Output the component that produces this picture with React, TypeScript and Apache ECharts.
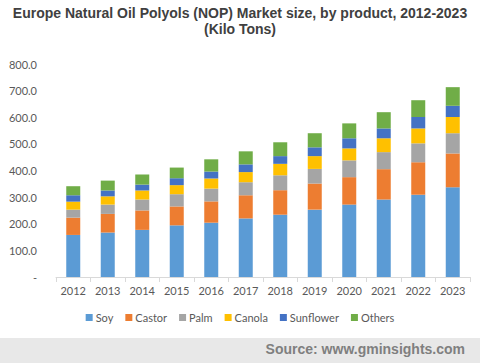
import React, { useEffect, useRef } from "react";
import * as echarts from "echarts";

const years = ["2012", "2013", "2014", "2015", "2016", "2017", "2018", "2019", "2020", "2021", "2022", "2023"];
const soy = [158, 167, 177, 194, 204, 220, 234, 253, 272, 291, 309, 337];
const castor = [65, 70, 73, 71, 80, 87, 92, 98, 103, 114, 122, 127];
const palm = [30, 35, 41, 46, 48, 49, 56, 55, 63, 64, 71, 76];
const canola = [30, 31, 34, 34, 38, 38, 43, 48, 45, 52, 56, 61];
const sunflower = [24, 22, 22, 26, 26, 29, 29, 33, 38, 37, 43, 42];
const others = [34, 37, 38, 40, 46, 49, 52, 53, 56, 61, 63, 70];

const seriesNames = ["Soy", "Castor", "Palm", "Canola", "Sunflower", "Others"];
const seriesData = [soy, castor, palm, canola, sunflower, others];
const colors = ["#5b9bd5", "#ed7d31", "#a5a5a5", "#ffc000", "#4472c4", "#70ad47"];

const titleText = "Europe Natural Oil Polyols (NOP) Market size, by product, 2012-2023\n(Kilo Tons)";
const sourceText = "Source: www.gminsights.com";

export default function App() {
  const ref = useRef<HTMLDivElement>(null);
  useEffect(() => {
    if (!ref.current) return;
    const chart = echarts.init(ref.current, undefined, { renderer: "svg" });
    const font = "'Liberation Sans', Arial, sans-serif";
    const labelFont = "Lato, 'Open Sans', sans-serif";
    chart.setOption({
      animation: false,
      backgroundColor: "#ffffff",
      title: {
        text: titleText,
        left: "center",
        top: 0,
        textStyle: {
          fontSize: 14,
          fontWeight: "bold",
          fontFamily: font,
          color: "#404040",
          lineHeight: 16,
        },
      },
      grid: { left: 56, right: 10, top: 64, bottom: 86 },
      legend: {
        data: seriesNames,
        bottom: 35,
        left: "center",
        itemWidth: 7,
        itemHeight: 7,
        itemGap: 12,
        icon: "rect",
        textStyle: { fontSize: 11, color: "#595959", fontFamily: labelFont, padding: [0, 0, 0, -2] },
      },
      xAxis: {
        type: "category",
        data: years,
        axisLine: { lineStyle: { color: "#d9d9d9" } },
        axisTick: { show: true, lineStyle: { color: "#d9d9d9" }, length: 5 },
        axisLabel: { color: "#595959", fontSize: 11, fontFamily: labelFont, margin: 8 },
      },
      yAxis: {
        type: "value",
        min: 0,
        max: 800,
        interval: 100,
        splitLine: { show: false },
        axisLine: { show: false },
        axisTick: { show: false },
        axisLabel: {
          color: "#595959",
          fontSize: 11,
          fontFamily: labelFont,
          margin: 19,
          formatter: (v: number) => (v === 0 ? "-" : v.toFixed(1)),
        },
      },
      series: seriesNames.map((name, i) => ({
        name,
        type: "bar",
        stack: "total",
        barWidth: 14,
        data: seriesData[i],
        itemStyle: { color: colors[i] },
      })),
      graphic: [
        {
          type: "rect",
          left: 0,
          top: 338,
          shape: { width: 480, height: 25 },
          style: { fill: "#e8e8e8" },
          silent: true,
        },
        {
          type: "text",
          right: 15,
          top: 342,
          style: {
            text: sourceText,
            fill: "#7f7f7f",
            font: "bold 14px 'Liberation Sans', Arial, sans-serif",
          },
        },
      ],
    });
    return () => chart.dispose();
  }, []);
  return (
    <div
      ref={ref}
      style={{ position: "absolute", left: 0, top: 0, width: 480, height: 363, background: "#fff" }}
    />
  );
}
